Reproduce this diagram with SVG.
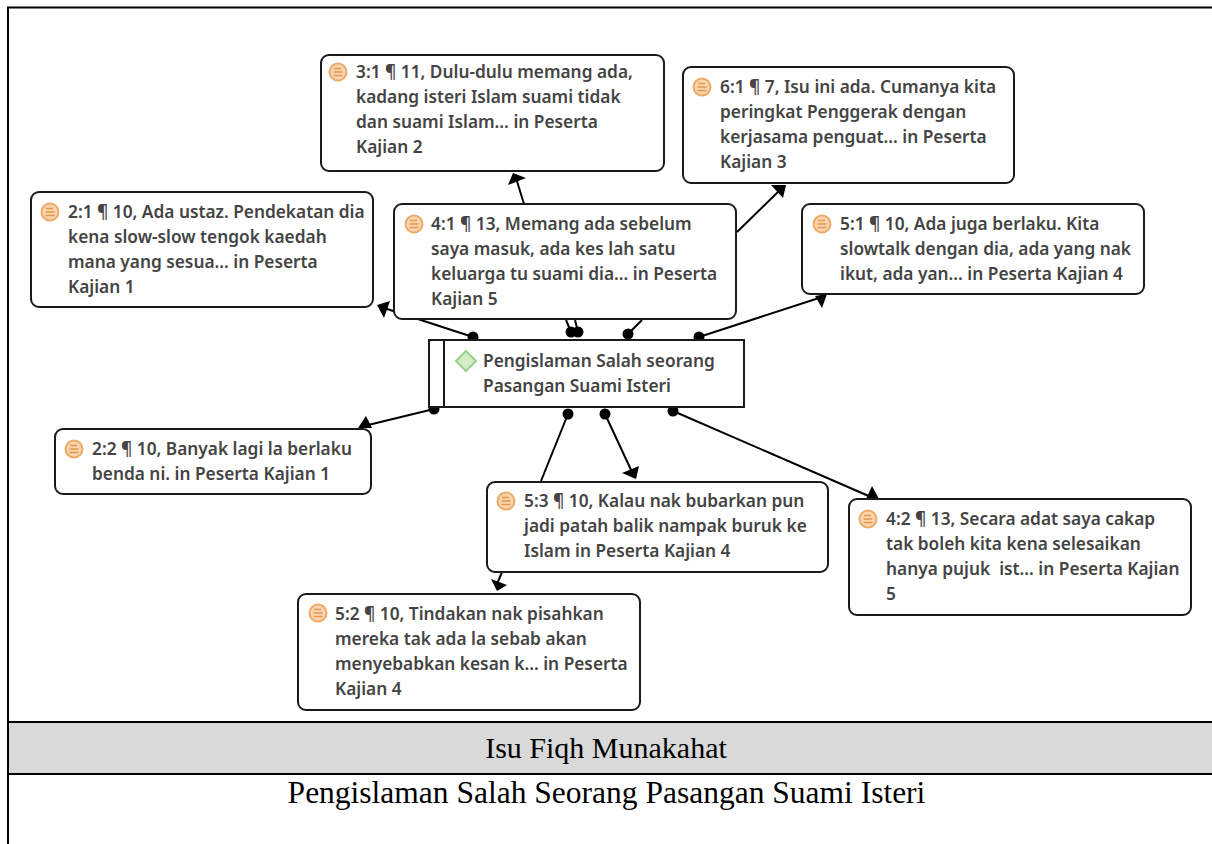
<svg xmlns="http://www.w3.org/2000/svg" width="1212" height="844" viewBox="0 0 1212 844">
<style>
.n{fill:#fff;stroke:#1a1a1a;stroke-width:2}
.t{font-family:"Noto Sans","Open Sans",sans-serif;font-size:17.3px;font-weight:600;fill:#444}
.c{fill:none;stroke:#000;stroke-width:2}
.d{fill:#000;stroke:none}
.h{fill:#000;stroke:none}
.i{fill:#f6d5b0;stroke:#eeaa66;stroke-width:2}
.il{stroke:#e8964a;stroke-width:1.3;fill:none}
.r{font-family:"Liberation Serif",serif;fill:#000;text-anchor:middle}
.f{stroke:#000;stroke-width:2;fill:none}
</style>
<defs>
<g id="ic"><circle r="8.500" class="i"/><path class="il" d="M-4-3.500H3M-4.500 0H4.500M-4.500 3.500H4.500"/></g>
</defs>
<g id="frame">
<rect x="8" y="722" width="1204" height="52" fill="#d9d9d9"/>
<path class="f" d="M1212 7.500H8V844M8 722H1212M8 774H1212"/>
<text class="r" x="606" y="757.500" font-size="30">Isu Fiqh Munakahat</text>
<text class="r" x="606.500" y="803" font-size="31.500">Pengislaman Salah Seorang Pasangan Suami Isteri</text>
</g>
<g id="connectors">
<path class="c" d="M473 337L384 308"/><path class="h" d="M377 305L390 301L384 318Z"/>
<path class="c" d="M571 332L566 320M578 332L575 320M628 334L642 320"/>
<path class="c" d="M524 204L516 178"/><path class="h" d="M513 173L508 185L526 178Z"/>
<path class="c" d="M737 232L780 190"/><path class="h" d="M786 185L771 185L783 198Z"/>
<path class="c" d="M699 337L822 297"/><path class="h" d="M827 294L815 296L822 308Z"/>
<path class="c" d="M434 409L364 426"/><path class="h" d="M358 428L366 416L372 428Z"/>
<path class="c" d="M568 414L541 481"/>
<path class="c" d="M605 414L632 472"/><path class="h" d="M636 479L622 473L639 466Z"/>
<path class="c" d="M673 411L871 497"/><path class="h" d="M872 486L866 499L879 499Z"/>
<path class="c" d="M502 572L497 584"/><path class="h" d="M491 579L507 585L497 591Z"/>
<circle class="d" cx="473" cy="337" r="5.500"/><circle class="d" cx="571" cy="332" r="5.500"/><circle class="d" cx="578" cy="332" r="5.500"/><circle class="d" cx="628" cy="334" r="5.500"/><circle class="d" cx="699" cy="337" r="5.500"/><circle class="d" cx="434" cy="409" r="5.500"/><circle class="d" cx="568" cy="414" r="5.500"/><circle class="d" cx="605" cy="414" r="5.500"/><circle class="d" cx="673" cy="411" r="5.500"/>
</g>
<g id="n31"><rect class="n" x="321" y="55" width="343" height="116" rx="8"/><use href="#ic" x="338" y="72"/><text class="t"><tspan x="356" y="78">3:1 ¶ 11, Dulu-dulu memang ada,</tspan><tspan x="356" y="103">kadang isteri Islam suami tidak</tspan><tspan x="356" y="128">dan suami Islam... in Peserta</tspan><tspan x="356" y="153">Kajian 2</tspan></text></g>
<g id="n61"><rect class="n" x="683" y="67" width="331" height="116" rx="8"/><use href="#ic" x="702" y="87"/><text class="t"><tspan x="720" y="93">6:1 ¶ 7, Isu ini ada. Cumanya kita</tspan><tspan x="720" y="118">peringkat Penggerak dengan</tspan><tspan x="720" y="143">kerjasama penguat... in Peserta</tspan><tspan x="720" y="168">Kajian 3</tspan></text></g>
<g id="n21"><rect class="n" x="31" y="192" width="342" height="115" rx="8"/><use href="#ic" x="50" y="212"/><text class="t"><tspan x="68" y="218">2:1 ¶ 10, Ada ustaz. Pendekatan dia</tspan><tspan x="68" y="243">kena slow-slow tengok kaedah</tspan><tspan x="68" y="268">mana yang sesua... in Peserta</tspan><tspan x="68" y="293">Kajian 1</tspan></text></g>
<g id="n41"><rect class="n" x="394" y="204" width="342" height="115" rx="8"/><use href="#ic" x="414" y="224"/><text class="t"><tspan x="431" y="230">4:1 ¶ 13, Memang ada sebelum</tspan><tspan x="431" y="255">saya masuk, ada kes lah satu</tspan><tspan x="431" y="280">keluarga tu suami dia... in Peserta</tspan><tspan x="431" y="305">Kajian 5</tspan></text></g>
<g id="n51"><rect class="n" x="802" y="204" width="342" height="90" rx="8"/><use href="#ic" x="822" y="224"/><text class="t"><tspan x="840" y="230">5:1 ¶ 10, Ada juga berlaku. Kita</tspan><tspan x="840" y="255">slowtalk dengan dia, ada yang nak</tspan><tspan x="840" y="280">ikut, ada yan... in Peserta Kajian 4</tspan></text></g>
<g id="main"><rect x="429" y="340" width="315" height="67" fill="#fff" stroke="#1a1a1a" stroke-width="2"/><path d="M444 340V407" stroke="#1a1a1a" stroke-width="2"/><path d="M466 351L476 361L466 371L456 361Z" fill="#d5ecc8" stroke="#9ad08a" stroke-width="2"/><text class="t"><tspan x="483" y="367">Pengislaman Salah seorang</tspan><tspan x="483" y="392">Pasangan Suami Isteri</tspan></text></g>
<g id="n22"><rect class="n" x="55" y="429" width="316" height="65" rx="8"/><use href="#ic" x="74" y="449"/><text class="t"><tspan x="92" y="455">2:2 ¶ 10, Banyak lagi la berlaku</tspan><tspan x="92" y="480">benda ni. in Peserta Kajian 1</tspan></text></g>
<g id="n53"><rect class="n" x="487" y="482" width="341" height="90" rx="8"/><use href="#ic" x="506" y="501"/><text class="t"><tspan x="524" y="507">5:3 ¶ 10, Kalau nak bubarkan pun</tspan><tspan x="524" y="532">jadi patah balik nampak buruk ke</tspan><tspan x="524" y="557">Islam in Peserta Kajian 4</tspan></text></g>
<g id="n42"><rect class="n" x="849" y="499" width="342" height="116" rx="8"/><use href="#ic" x="868" y="519"/><text class="t"><tspan x="886" y="525">4:2 ¶ 13, Secara adat saya cakap</tspan><tspan x="886" y="550">tak boleh kita kena selesaikan</tspan><tspan x="886" y="575" xml:space="preserve">hanya pujuk  ist... in Peserta Kajian</tspan><tspan x="886" y="600">5</tspan></text></g>
<g id="n52"><rect class="n" x="298" y="594" width="342" height="116" rx="8"/><use href="#ic" x="318" y="613"/><text class="t"><tspan x="335" y="620">5:2 ¶ 10, Tindakan nak pisahkan</tspan><tspan x="335" y="645">mereka tak ada la sebab akan</tspan><tspan x="335" y="670">menyebabkan kesan k... in Peserta</tspan><tspan x="335" y="695">Kajian 4</tspan></text></g>
</svg>
